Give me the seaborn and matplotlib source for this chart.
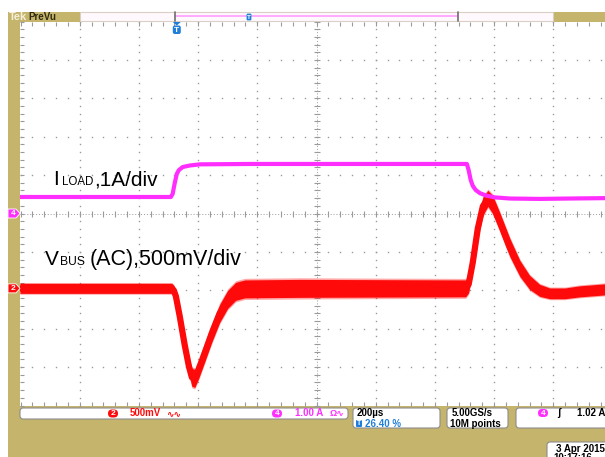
import matplotlib
matplotlib.use("Agg")
import matplotlib.pyplot as plt
import matplotlib.transforms as mtransforms
from matplotlib.patches import FancyBboxPatch, Rectangle, Polygon
from matplotlib.ticker import FixedLocator
import numpy as np
import pandas as pd
import seaborn as sns

sns.set_theme(style="white")
plt.rcParams["font.family"] = ["Liberation Sans", "DejaVu Sans"]

# ---------------- acquisition settings ----------------
T_PER_DIV = 200.0        # us/div
N_XDIV = 10
TRIG_PCT = 26.40         # trigger position in record
I_PER_DIV = 1.0          # ch4, A/div
I_POS = 0.0              # ch4 position, div
V_PER_DIV = 500.0        # ch2, mV/div (AC coupled)
V_POS = -1.95            # ch2 position, div
N_YDIV = 10

# ---------------- channel 4: load current ----------------
load_time_us = [-530, -20, -14, -7, 0, 7, 20, 44, 78, 247, 753, 980, 986, 993,
                1000, 1010, 1024, 1044, 1074, 1125, 1226, 1328, 1446]
load_current_a = [0.43, 0.43, 0.51, 0.79, 1.03, 1.13, 1.21, 1.25, 1.28, 1.29, 1.29,
                  1.29, 1.13, 0.87, 0.72, 0.61, 0.53, 0.47, 0.42, 0.39, 0.38, 0.39, 0.40]

# ---------------- channel 2: bus voltage (AC) ----------------
bus_time_us = [-530, -17, -10, -3, 10, 27, 41, 51, 61, 74, 95, 118, 145, 172, 199,
               230, 415, 976, 986, 1000, 1017, 1034, 1051, 1067, 1091, 1125, 1159,
               1192, 1226, 1260, 1311, 1361, 1446]
bus_mv = [0, 0, -26, -104, -365, -742, -1016, -1159, -1172, -1055, -833, -586, -326,
          -143, -39, -7, 0, 0, 52, 339, 781, 1068, 1172, 1094, 872, 534, 260, 78,
          -26, -65, -65, -39, -13]
bus_spread_mv = [65, 65, 65, 78, 91, 104, 104, 117, 117, 117, 117, 117, 117, 117, 117,
                 117, 117, 110, 110, 117, 117, 117, 104, 117, 117, 117, 104, 91, 78,
                 70, 70, 72, 72]

W, H, DPI = 605, 457, 100
KHAKI = "#C5B46C"
MAGENTA = "#FF2EFF"
RED = "#FF0A0A"
BLUE = "#1F7FD8"
GRID = "#9A9A9A"

fig = plt.figure(figsize=(W / DPI, H / DPI), dpi=DPI, facecolor="white")
# pixel coordinates, origin top-left
PX = mtransforms.Affine2D().scale(1 / DPI, -1 / DPI).translate(0, H / DPI) + fig.dpi_scale_trans

# screen frame
PL, PT, PW, PH = 20.5, 21.5, 592.0, 384.0
fig.patches.append(Rectangle((8, 12), W - 8, H - 12, transform=PX, facecolor=KHAKI,
                             edgecolor="none", zorder=-10))

ax = fig.add_axes([PL / W, 1 - (PT + PH) / H, PW / W, PH / H])
ax.set_facecolor("white")

t_left = -TRIG_PCT / 100 * N_XDIV * T_PER_DIV
t_right = t_left + N_XDIV * T_PER_DIV
ax.set_xlim(t_left, t_right)
ax.set_ylim((-N_YDIV / 2 - I_POS) * I_PER_DIV, (N_YDIV / 2 - I_POS) * I_PER_DIV)

ax2 = ax.twinx()
ax2.set_ylim((-N_YDIV / 2 - V_POS) * V_PER_DIV, (N_YDIV / 2 - V_POS) * V_PER_DIV)

# graticule
xmaj = [t_left + k * T_PER_DIV for k in range(N_XDIV + 1)]
xmin = [t_left + k * T_PER_DIV / 5 for k in range(N_XDIV * 5 + 1)]
y0, y1 = ax.get_ylim()
ymaj = [y0 + k * I_PER_DIV for k in range(N_YDIV + 1)]
ymin = [y0 + k * I_PER_DIV / 5 for k in range(N_YDIV * 5 + 1)]

for a in (ax, ax2):
    a.set_xticks([])
    a.set_yticks([])
    for s in a.spines.values():
        s.set_visible(False)

ax.xaxis.set_minor_locator(FixedLocator(xmin))
ax.yaxis.set_minor_locator(FixedLocator(ymin))
ax.tick_params(which="minor", direction="in", length=3, width=0.8, color=GRID,
               top=True, bottom=True, left=True, right=True)

xc = xmaj[N_XDIV // 2]
yc = ymaj[N_YDIV // 2]
for xv in xmaj[1:-1]:
    if xv == xc:
        continue
    ax.plot([xv] * len(ymin), ymin, ls="none", marker="s", ms=1.0, mew=0, color=GRID, zorder=1)
for yv in ymaj[1:-1]:
    if yv == yc:
        continue
    ax.plot(xmin, [yv] * len(xmin), ls="none", marker="s", ms=1.0, mew=0, color=GRID, zorder=1)
# center cross with sub-division ticks
ax.plot([xc, xc], [y0, y1], ls=(0, (1, 2)), lw=0.7, color=GRID, zorder=1)
ax.plot([t_left, t_right], [yc, yc], ls=(0, (1, 2)), lw=0.7, color=GRID, zorder=1)
ax.plot([xc] * len(ymin), ymin, ls="none", marker="_", ms=4, mew=0.8, color=GRID, zorder=1)
ax.plot(xmin, [yc] * len(xmin), ls="none", marker="|", ms=4, mew=0.8, color=GRID, zorder=1)

# traces
bus = pd.DataFrame({"t": bus_time_us, "v": bus_mv, "s": bus_spread_mv})
ax2.fill_between(bus["t"], bus["v"] - 1.18 * bus["s"], bus["v"] + 1.18 * bus["s"],
                 color=RED, alpha=0.35, lw=0, zorder=3)
ax2.fill_between(bus["t"], bus["v"] - bus["s"], bus["v"] + bus["s"], color=RED,
                 lw=0, zorder=3)
sns.lineplot(data=bus, x="t", y="v", ax=ax2, color=RED, lw=4.5, estimator=None,
             sort=False, zorder=3)

load = pd.DataFrame({"t": load_time_us, "i": load_current_a})
ax3 = ax2.twinx()
ax3.set_ylim(ax.get_ylim())
ax3.set_yticks([])
for s in ax3.spines.values():
    s.set_visible(False)
sns.lineplot(data=load, x="t", y="i", ax=ax3, color=MAGENTA, lw=3.0, estimator=None,
             sort=False, zorder=4)
for a in (ax, ax2, ax3):
    a.set_xlabel("")
    a.set_ylabel("")
    a.set_xlim(t_left, t_right)

# trace labels
def label(x, y, parts):
    for dx, txt, size in parts:
        fig.text(x + dx, y, txt, transform=PX, fontsize=size, color="black",
                 va="baseline", ha="left", zorder=10)

label(53, 185, [(0, "I", 15), (9, "LOAD", 8.3), (41.5, ",1A/div", 15)])
label(45, 265, [(0, "V", 15), (15, "BUS", 8.7), (45, "(AC),500mV/div", 15.5)])

# ---------------- top record bar ----------------
fig.text(9, 17, "Tek", transform=PX, fontsize=8, fontweight="bold", color="#F4EFD8",
         va="center", ha="left")
fig.text(28, 17, "PreVu", transform=PX, fontsize=7, fontweight="bold", color="#2E2A10",
         va="center", ha="left")
fig.patches.append(Rectangle((80, 12), 473, 9, transform=PX, facecolor="#FFF9FD",
                             edgecolor="#D9CFC6", lw=0.8, zorder=1))
fig.lines.append(plt.Line2D([175, 458], [15.5, 15.5], transform=PX, color="#FF9DFF", lw=1.2))
for xb in (175, 458):
    fig.lines.append(plt.Line2D([xb, xb], [12, 21], transform=PX, color="#6E6E6E", lw=1.2))
fig.patches.append(FancyBboxPatch((247, 14), 4, 6, boxstyle="round,pad=0.4,rounding_size=1",
                                  transform=PX, facecolor=BLUE, edgecolor="none", zorder=3))
fig.text(249, 17.3, "T", transform=PX, fontsize=4.5, fontweight="bold", color="white",
         ha="center", va="center", zorder=4)

# trigger position marker
trig_x = PL + (0 - t_left) / (t_right - t_left) * PW
fig.patches.append(Polygon([[trig_x - 4, 22], [trig_x + 4, 22], [trig_x, 25.5]],
                           transform=PX, facecolor=BLUE, edgecolor="none", zorder=5))
fig.patches.append(FancyBboxPatch((trig_x - 3.5, 26), 7, 7.5,
                                  boxstyle="round,pad=0.5,rounding_size=2",
                                  transform=PX, facecolor=BLUE, edgecolor="none", zorder=5))
fig.text(trig_x, 30, "T", transform=PX, fontsize=6, fontweight="bold", color="white",
         ha="center", va="center", zorder=6)

# channel ground markers
def ch_marker(ypx, color, num):
    fig.patches.append(Polygon([[8, ypx - 4.5], [16, ypx - 4.5], [20, ypx], [16, ypx + 4.5],
                                [8, ypx + 4.5]], transform=PX, facecolor=color,
                               edgecolor="white", lw=0.6, zorder=5))
    fig.text(13, ypx + 0.3, num, transform=PX, fontsize=6, fontweight="bold", color="white",
             ha="center", va="center", zorder=6)

ch_marker(PT + PH / 2 - I_POS * PH / N_YDIV, MAGENTA, "4")
ch_marker(PT + PH / 2 - V_POS * PH / N_YDIV, RED, "2")

# ---------------- bottom readouts ----------------
def rbox(x, y, w, h):
    fig.patches.append(FancyBboxPatch((x, y), w, h, boxstyle="round,pad=0,rounding_size=3",
                                      transform=PX, facecolor="white", edgecolor="#8C8C8C",
                                      lw=0.8, zorder=2))

def pill(xc_, yc_, color, num):
    fig.patches.append(FancyBboxPatch((xc_ - 5, yc_ - 4), 10, 8,
                                      boxstyle="round,pad=0,rounding_size=4", transform=PX,
                                      facecolor=color, edgecolor="none", zorder=3))
    fig.text(xc_, yc_ + 0.3, num, transform=PX, fontsize=6, fontweight="bold",
             color="white", ha="center", va="center", zorder=4)

def rtext(x, y, s, color="black", size=7):
    fig.text(x, y, s, transform=PX, fontsize=size, fontweight="bold", color=color,
             ha="left", va="center", zorder=4)

rbox(20, 408, 328, 11)
pill(113, 413.5, RED, "2")
rtext(130, 413.5, "500mV", RED)
rtext(166, 413.5, "∿∿", RED, 6.5)
pill(277, 413.5, MAGENTA, "4")
rtext(295, 413.5, "1.00 A", MAGENTA)
rtext(330, 413.5, "Ω∿", MAGENTA, 6.5)

rbox(353, 408, 87, 20)
rtext(357, 413, "200µs")
fig.patches.append(FancyBboxPatch((356, 420), 6, 7, boxstyle="round,pad=0,rounding_size=1",
                                  transform=PX, facecolor=BLUE, edgecolor="none", zorder=3))
fig.text(359, 423.7, "T", transform=PX, fontsize=5, fontweight="bold", color="white",
         ha="center", va="center", zorder=4)
rtext(365, 424, "26.40 %", BLUE)

rbox(447, 408, 61, 20)
rtext(452, 413, "5.00GS/s")
rtext(450, 424, "10M points")

rbox(516, 408, 110, 20)
pill(543, 413, MAGENTA, "4")
rtext(557, 413, "ʃ")
rtext(577, 413, "1.02 A")

rbox(547, 442, 80, 30)
rtext(556, 449, "3 Apr 2015")
rtext(553, 458, "10:17:16")

fig.savefig("out.png", dpi=DPI, facecolor="white")
